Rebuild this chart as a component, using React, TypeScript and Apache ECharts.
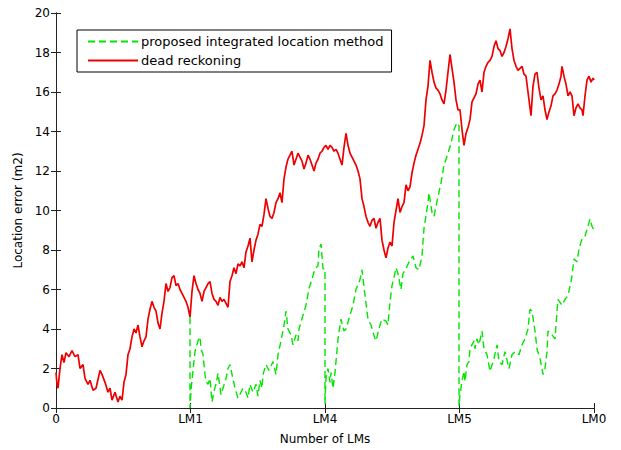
import React, { useEffect, useRef } from "react";
import * as echarts from "echarts";

// x = sample index along the route (0 .. 538), landmarks every 134.5 samples
const tickLabels = ["0", "LM1", "LM4", "LM5", "LM0"];
const lmSpacing = 134.5;
const xMax = 538;

const seriesNames = ["proposed integrated location method", "dead reckoning"];

const deadReckoning: [number, number][] = [
  [0,1.8],[1,1.2],[2,1.0],[4,2.0],[6,2.7],[8,2.3],[10,2.8],[13,2.6],[16,2.9],[19,2.6],[22,2.7],[24,2.0],[27,2.2],[29,1.5],[32,1.2],[34,1.4],[37,0.9],[40,1.0],[44,1.9],[46,1.7],[49,1.3],[52,0.8],[54,1.0],[56,0.4],[59,0.8],[62,0.3],[64,0.6],[66,0.4],[68,1.3],[70,1.7],[72,2.7],[74,3.0],[76,3.6],[78,4.0],[80,3.8],[82,4.2],[84,3.6],[86,3.1],[88,3.4],[90,3.6],[92,4.5],[94,5.0],[96,5.4],[98,5.1],[100,4.9],[102,4.3],[104,4.0],[106,4.8],[108,5.4],[110,6.3],[112,5.9],[114,6.1],[116,6.6],[118,6.7],[120,6.2],[122,6.3],[124,6.0],[126,5.8],[128,5.6],[130,5.4],[132,5.1],[134,4.6],[136,5.9],[138,6.7],[140,6.3],[142,6.0],[144,5.8],[146,5.4],[148,5.9],[150,6.1],[152,6.3],[154,6.4],[156,5.8],[158,5.5],[160,5.4],[162,5.2],[164,5.6],[166,5.4],[168,5.5],[170,5.3],[172,5.1],[174,6.4],[176,6.7],[178,7.1],[180,6.8],[182,7.3],[184,7.2],[186,7.4],[188,7.1],[190,7.9],[192,8.2],[194,8.6],[196,7.4],[198,8.0],[200,8.5],[202,8.8],[204,9.3],[206,9.2],[208,9.8],[210,10.6],[212,10.1],[214,9.7],[216,9.6],[218,9.9],[220,10.4],[222,10.6],[224,10.9],[226,10.4],[228,11.6],[230,12.2],[232,12.6],[234,12.8],[236,13.0],[238,12.3],[240,12.6],[242,12.9],[244,12.7],[246,12.5],[248,12.1],[250,12.4],[252,12.8],[254,12.6],[256,12.3],[258,12.0],[260,12.4],[262,12.6],[264,12.9],[266,13.0],[268,13.2],[270,13.3],[272,13.1],[274,13.3],[276,13.2],[278,13.0],[280,13.1],[282,12.9],[284,12.6],[286,12.3],[288,13.2],[290,13.9],[292,13.3],[294,12.9],[296,12.7],[298,12.5],[300,12.3],[302,12.0],[304,11.6],[306,10.6],[308,10.2],[310,9.7],[312,9.4],[314,9.2],[316,9.5],[318,9.6],[320,9.1],[322,9.4],[324,9.6],[326,8.5],[328,8.0],[330,7.6],[332,8.1],[334,8.4],[336,8.2],[338,9.4],[340,10.0],[342,10.6],[344,9.9],[346,10.2],[348,10.4],[350,11.3],[352,11.0],[354,11.2],[356,11.9],[358,12.4],[360,12.8],[362,13.1],[364,13.4],[366,13.8],[368,14.3],[370,15.6],[372,16.3],[374,17.6],[376,17.0],[378,16.5],[380,16.2],[382,16.1],[384,15.9],[386,15.6],[388,15.4],[390,16.1],[392,17.0],[394,17.9],[396,17.2],[398,16.5],[400,15.6],[402,15.1],[404,15.1],[406,14.1],[408,13.3],[410,13.9],[412,14.2],[414,14.6],[416,15.5],[418,15.7],[420,15.9],[422,16.4],[424,16.6],[426,16.0],[428,17.0],[430,17.3],[432,17.5],[434,17.6],[436,17.8],[438,18.3],[440,18.6],[442,18.2],[444,18.1],[446,17.8],[448,18.0],[450,18.3],[452,18.7],[454,19.2],[456,18.2],[458,17.6],[460,17.3],[462,17.1],[464,17.2],[466,17.3],[468,16.9],[470,16.8],[472,16.0],[474,15.2],[475,14.8],[477,16.3],[479,16.9],[481,17.0],[483,16.2],[485,15.6],[487,15.8],[489,15.1],[491,14.6],[493,15.0],[495,15.3],[497,15.8],[499,15.9],[501,16.1],[503,16.4],[505,16.8],[506,17.3],[508,16.8],[510,16.4],[512,15.8],[514,16.0],[516,15.8],[518,14.8],[520,15.2],[522,15.4],[524,15.2],[526,15.1],[527,14.8],[529,15.8],[531,16.6],[533,16.8],[535,16.5],[537,16.7],[538,16.6]
];

const proposed: [number, number][] = [
  [134,4.6],[134,0],[135,0.9],[137,1.9],[139,2.85],[142,3.4],[144,3.6],[145,3.0],[147,2.7],[149,1.7],[150,1.35],[152,1.2],[154,1.5],[156,0.3],[158,0.86],[160,1.2],[162,1.76],[165,0.67],[167,1.0],[170,1.5],[172,2.0],[174,2.2],[176,1.7],[179,1.0],[182,0.5],[185,0.8],[187,1.0],[190,0.8],[192,0.5],[194,1.2],[197,0.8],[200,1.2],[202,0.6],[204,1.4],[206,1.0],[207,1.7],[210,2.2],[213,1.9],[217,2.35],[220,1.7],[222,2.7],[225,3.4],[228,4.2],[230,4.9],[232,4.0],[235,3.7],[237,3.2],[240,3.7],[242,3.4],[243,4.0],[247,4.7],[250,5.2],[253,6.05],[257,6.7],[259,7.05],[262,7.2],[263,8.06],[265,8.3],[267,7.05],[269,7.05],
  [269,0.2],[270,1.5],[272,2.0],[274,1.3],[275,1.8],[277,1.0],[279,1.8],[280,2.35],[282,3.5],[285,4.5],[288,3.9],[290,4.0],[294,4.7],[297,5.2],[300,6.0],[304,6.5],[306,7.0],[309,5.7],[312,4.5],[315,4.2],[319,3.5],[320,3.4],[324,4.2],[326,4.5],[330,4.4],[332,4.2],[334,5.4],[336,6.2],[338,6.6],[340,7.1],[342,6.8],[345,6.0],[347,6.8],[350,7.05],[353,7.4],[357,7.7],[360,7.1],[363,7.0],[366,7.7],[368,9.1],[372,10.4],[373,10.9],[376,9.9],[378,9.7],[382,10.7],[385,11.4],[388,12.3],[392,12.9],[395,13.4],[398,14.1],[401,14.45],[403,14.3],
  [403,0.1],[404,0.67],[406,1.35],[408,1.86],[409,1.35],[411,2.2],[413,2.35],[414,3.0],[418,3.4],[419,3.0],[421,3.5],[423,3.2],[426,3.9],[428,3.0],[431,2.7],[434,1.86],[438,2.5],[441,3.2],[443,2.35],[446,2.2],[449,2.85],[453,2.0],[456,2.7],[459,2.85],[463,2.7],[466,3.2],[469,3.5],[472,4.0],[474,5.0],[476,4.9],[479,3.9],[481,3.0],[484,2.5],[486,2.0],[487,1.7],[489,2.0],[491,2.85],[492,3.9],[496,3.7],[499,3.5],[501,4.9],[502,5.5],[506,5.2],[509,5.5],[512,5.7],[515,6.4],[516,6.7],[518,7.55],[521,7.4],[523,8.06],[526,8.56],[529,8.7],[532,9.2],[534,9.57],[536,9.2],[538,9.0]
];

const FONT = "DejaVu Sans";

export default function App() {
  const ref = useRef<HTMLDivElement>(null);
  useEffect(() => {
    if (!ref.current) return;
    const chart = echarts.init(ref.current, undefined, { renderer: "svg" });
    const axisColor = "#222";
    const tick = { show: true, inside: true, length: 5, lineStyle: { color: axisColor } };
    chart.setOption({
      animation: false,
      backgroundColor: "#fff",
      textStyle: { fontFamily: FONT },
      grid: { left: 56, right: 27, top: 13, bottom: 40, containLabel: false },
      legend: {
        orient: "vertical",
        left: 77,
        top: 30,
        itemWidth: 50,
        itemHeight: 12,
        itemGap: 6,
        padding: [5, 8, 5, 10],
        borderColor: "#000",
        borderWidth: 1,
        backgroundColor: "#fff",
        itemStyle: { color: "rgba(0,0,0,0)", borderColor: "rgba(0,0,0,0)", borderWidth: 0 },
        textStyle: { fontFamily: FONT, fontSize: 13, color: "#000", padding: [0, 0, 0, -2] },
        data: seriesNames,
      },
      xAxis: [
        {
          type: "value",
          min: 0,
          max: xMax,
          interval: lmSpacing,
          name: "Number of LMs",
          nameLocation: "middle",
          nameGap: 25,
          nameTextStyle: { fontFamily: FONT, fontSize: 12, color: "#000" },
          axisLine: { show: true, onZero: false, lineStyle: { color: axisColor } },
          axisTick: tick,
          splitLine: { show: false },
          axisLabel: {
            fontFamily: FONT,
            fontSize: 12,
            color: "#000",
            margin: 5,
            formatter: (v: number) => tickLabels[Math.round(v / lmSpacing)] ?? "",
          },
        },
        {
          type: "value",
          position: "top",
          min: 0,
          max: xMax,
          interval: lmSpacing,
          axisLine: { show: true, lineStyle: { color: axisColor } },
          axisTick: tick,
          axisLabel: { show: false },
          splitLine: { show: false },
        },
      ],
      yAxis: [
        {
          type: "value",
          min: 0,
          max: 20,
          interval: 2,
          name: "Location error (m2)",
          nameLocation: "middle",
          nameGap: 31,
          nameTextStyle: { fontFamily: FONT, fontSize: 12, color: "#000" },
          axisLine: { show: true, lineStyle: { color: axisColor } },
          axisTick: tick,
          splitLine: { show: false },
          axisLabel: { fontFamily: FONT, fontSize: 12, color: "#000", margin: 6 },
        },
        {
          type: "value",
          position: "right",
          min: 0,
          max: 20,
          interval: 2,
          axisLine: { show: true, lineStyle: { color: axisColor } },
          axisTick: tick,
          axisLabel: { show: false },
          splitLine: { show: false },
        },
      ],
      series: [
        {
          name: seriesNames[0],
          type: "line",
          data: proposed,
          showSymbol: false,
          symbol: "none",
          z: 3,
          itemStyle: { color: "#00e600" },
          lineStyle: { color: "#00e600", width: 1.4, type: [7, 4] },
        },
        {
          name: seriesNames[1],
          type: "line",
          data: deadReckoning,
          showSymbol: false,
          symbol: "none",
          z: 2,
          itemStyle: { color: "#ee0000" },
          lineStyle: { color: "#ee0000", width: 1.7 },
        },
      ],
    });
    return () => chart.dispose();
  }, []);
  return (
    <div
      ref={ref}
      style={{ position: "fixed", left: 0, top: 0, width: 621, height: 450, background: "#fff" }}
    />
  );
}
